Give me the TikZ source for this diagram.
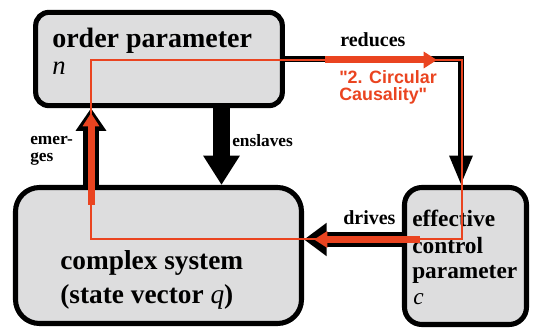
\documentclass[tikz,border=0pt]{standalone}
\usepackage{fontspec}
\setmainfont{Liberation Serif}
\newfontfamily\causalfont{Liberation Sans}
\usetikzlibrary{arrows.meta}
\definecolor{boxgray}{RGB}{221,221,222}
\definecolor{loopred}{RGB}{234,68,32}

\begin{document}
\begin{tikzpicture}[line cap=butt,line join=miter,x=0.75pt,y=-0.75pt,
    box/.style={draw=black,line width=3.8pt,fill=boxgray,inner sep=0pt},
    txt/.style={inner sep=0pt,anchor=base west,font=\bfseries},
    redthick/.style={loopred,line width=5.25pt,-{Triangle[width=12pt,length=10pt]}}]
  \useasboundingbox (0,0) rectangle (533,328);
  % the three blocks
  \node[box,rounded corners=10pt,minimum width=185pt,minimum height=70pt] (order) at (159,59) {};
  \node[box,rounded corners=18pt,minimum width=214.5pt,minimum height=102pt] (system) at (158.5,255.5) {};
  \node[box,rounded corners=13pt,minimum width=91.5pt,minimum height=102.75pt] (control) at (465.5,256) {};
  \node[txt,font=\bfseries\fontsize{21}{22}\selectfont] (ordertxt) at (52,48) {order parameter};
  \node[txt,font=\itshape\fontsize{20}{22}\selectfont] (ordersym) at (52,75) {n};
  \node[txt,font=\bfseries\fontsize{20.5}{22}\selectfont] (systxt) at (60,270) {complex system};
  \node[txt,font=\bfseries\fontsize{20.5}{22}\selectfont] (systxtb) at (60,303) {(state vector {\mdseries\itshape q})};
  \node[txt,font=\bfseries\fontsize{17.5}{19.5}\selectfont] (ctltxt) at (412,227) {effective};
  \node[txt,font=\bfseries\fontsize{17.5}{19.5}\selectfont] (ctltxtb) at (412,253) {control};
  \node[txt,font=\bfseries\fontsize{17.5}{19.5}\selectfont] (ctltxtc) at (412,279) {parameter};
  \node[txt,font=\itshape\fontsize{17.5}{19.5}\selectfont] (ctlsym) at (413,305) {c};

  % helper points
  \coordinate (ens) at (221.5,150);
  \coordinate (em) at (91,150);
  \coordinate (dr) at (350,239.5);
  \coordinate (rc) at (461,59);
  \coordinate (lt) at (91,60);
  \coordinate (rt) at (462,60);
  \coordinate (rb) at (462,239.5);
  \coordinate (lb) at (91,239.5);
  \coordinate (emA) at (91,205);
  \coordinate (emB) at (91,113);
  \coordinate (reA) at (325,60);
  \coordinate (reB) at (437,60);
  \coordinate (drA) at (420,239.5);
  \coordinate (drB) at (314,239.5);

  % black arrows
  \draw[line width=12.75pt,-{Triangle[width=26pt,length=22pt]}] (order.south -| ens) -- (system.north -| ens);
  \draw[line width=12pt,-{Triangle[width=22pt,length=17pt]}] (system.north -| em) -- (order.south -| em);
  \draw[line width=11.25pt,-{Triangle[width=24pt,length=17pt]}] (control.west |- dr) -- (system.east |- dr);
  \draw[line width=4.5pt,-{Triangle[width=16.5pt,length=22pt]}] (order.east) -- (rc) -- (rc |- control.north);

  \node[txt,font=\bfseries\fontsize{15}{16}\selectfont] (reduces) at (340,47) {reduces};
  \node[txt,font=\bfseries\fontsize{13}{14}\selectfont] (enslaves) at (232,147) {enslaves};
  \node[txt,font=\bfseries\fontsize{13}{14}\selectfont] (emer) at (30,145) {emer-};
  \node[txt,font=\bfseries\fontsize{13}{14}\selectfont] (ges) at (30,162) {ges};
  \node[txt,font=\bfseries\fontsize{15}{16}\selectfont] (drives) at (343,225) {drives};
  \node[txt,text=loopred,font=\causalfont\bfseries\fontsize{13.4}{13}\selectfont] (circ) at (339,84) {"2. Circular};
  \node[txt,text=loopred,font=\causalfont\bfseries\fontsize{13.4}{13}\selectfont] (caus) at (339,101) {Causality"};

  % the red loop
  \draw[loopred,line width=1.5pt] (lt) -- (rt) -- (rb) -- (lb) -- cycle;
  \draw[redthick] (emA) -- (emB);
  \draw[redthick] (reA) -- (reB);
  \draw[redthick] (drA) -- (drB);
\end{tikzpicture}
\end{document}
